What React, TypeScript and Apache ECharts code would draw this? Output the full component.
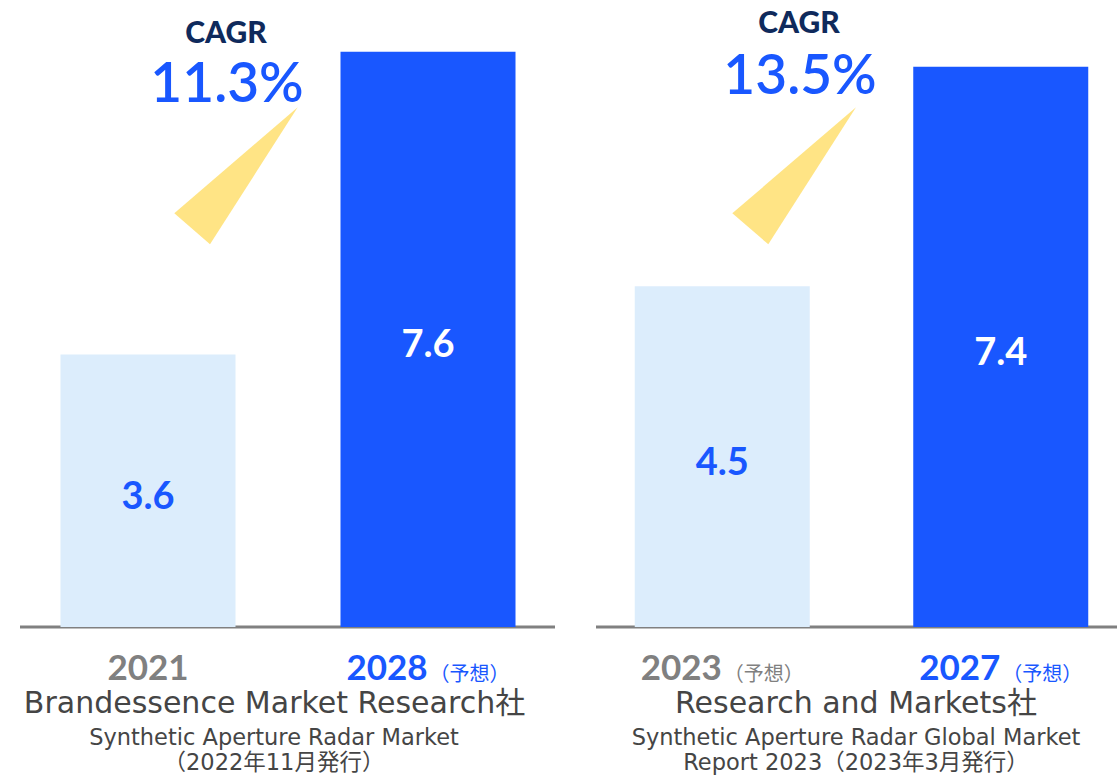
import React, { useEffect, useRef } from "react";
import * as echarts from "echarts";

const leftYears = ["2021", "2028"];
const leftSuffix = ["", "（予想）"];
const leftValues = [3.6, 7.6];
const rightYears = ["2023", "2027"];
const rightSuffix = ["（予想）", "（予想）"];
const rightValues = [4.5, 7.4];
const forecastFlags = [[false, true], [false, true]];
const cagrValues = ["11.3%", "13.5%"];
const sourceNames = ["Brandessence Market Research社", "Research and Markets社"];
const sourceTitles = [
  "Synthetic Aperture Radar Market\n（2022年11月発行）",
  "Synthetic Aperture Radar Global Market\nReport 2023（2023年3月発行）",
];

const BLUE = "#1957ff";
const LIGHT = "#dcedfc";
const GRAY = "#808080";
const NAVY = "#0f2a5c";
const YELLOW = "#ffe485";
const TXT = "#454545";
const FONT = "Lato, 'Noto Sans', 'Noto Sans CJK JP', sans-serif";
const TEXTFONT = "'DejaVu Sans', 'Noto Sans CJK JP', sans-serif";
const JPFONT = "'Noto Sans', 'Noto Sans CJK JP', sans-serif";

function barData(values: number[], flags: boolean[]) {
  return values.map((v, i) => ({
    value: v,
    itemStyle: { color: flags[i] ? BLUE : LIGHT },
    label: { color: flags[i] ? "#ffffff" : BLUE },
  }));
}

function xAxisFor(idx: number, years: string[], suffix: string[], flags: boolean[]) {
  return {
    type: "category",
    gridIndex: idx,
    data: years.map((y, i) => ({ value: y + "|" + suffix[i] + "|" + (flags[i] ? "b" : "g") })),
    axisLine: { show: false },
    axisTick: { show: false },
    axisLabel: {
      margin: 20,
      formatter: (v: string) => {
        const [y, s, c] = v.split("|");
        const yk = c === "b" ? "yb" : "yg";
        const sk = c === "b" ? "sb" : "sg";
        return s ? `{${yk}|${y}}{${sk}|${s}}` : `{${yk}|${y}}`;
      },
      rich: {
        yb: { fontSize: 35, fontWeight: "bold", color: BLUE, fontFamily: FONT, lineHeight: 36, verticalAlign: "bottom" },
        yg: { fontSize: 35, fontWeight: "bold", color: GRAY, fontFamily: FONT, lineHeight: 36, verticalAlign: "bottom" },
        sb: { fontSize: 20, color: BLUE, fontFamily: JPFONT, lineHeight: 32, verticalAlign: "bottom", padding: [0, 0, 0, 2] },
        sg: { fontSize: 20, color: GRAY, fontFamily: JPFONT, lineHeight: 32, verticalAlign: "bottom", padding: [0, 0, 0, 2] },
      },
    },
  };
}

export default function App() {
  const ref = useRef<HTMLDivElement>(null);
  useEffect(() => {
    if (!ref.current) return;
    const chart = echarts.init(ref.current, null, { renderer: "svg" });
    const barLabel = {
      show: true,
      position: "inside",
      fontSize: 38,
      fontWeight: "bold",
      fontFamily: FONT,
      offset: [0, 3],
    };
    const option: any = {
      animation: false,
      backgroundColor: "#ffffff",
      grid: [
        { left: 8, width: 560, top: 21.4, bottom: 148 },
        { left: 583, width: 557, top: 21.4, bottom: 148 },
      ],
      xAxis: [
        xAxisFor(0, leftYears, leftSuffix, forecastFlags[0]),
        xAxisFor(1, rightYears, rightSuffix, forecastFlags[1]),
      ],
      yAxis: [0, 1].map((i) => ({
        type: "value",
        gridIndex: i,
        min: 0,
        max: 8,
        show: false,
        splitLine: { show: false },
      })),
      series: [
        {
          type: "bar",
          xAxisIndex: 0,
          yAxisIndex: 0,
          barWidth: 175,
          data: barData(leftValues, forecastFlags[0]),
          label: barLabel,
        },
        {
          type: "bar",
          xAxisIndex: 1,
          yAxisIndex: 1,
          barWidth: 175,
          data: barData(rightValues, forecastFlags[1]),
          label: barLabel,
        },
      ],
      graphic: [
        { type: "line", shape: { x1: 20, y1: 627, x2: 555, y2: 627 }, style: { stroke: GRAY, lineWidth: 3 } },
        { type: "line", shape: { x1: 596, y1: 627, x2: 1117, y2: 627 }, style: { stroke: GRAY, lineWidth: 3 } },
        { type: "polygon", shape: { points: [[297.7, 107.3], [174.3, 213.3], [210, 244.3]] }, style: { fill: YELLOW } },
        { type: "polygon", shape: { points: [[856, 107.3], [732.3, 213.3], [768.3, 244.3]] }, style: { fill: YELLOW } },
        { type: "text", x: 226, y: 31, style: { text: "CAGR", fill: NAVY, font: `900 30px ${FONT}`, lineHeight: 26, textAlign: "center", textVerticalAlign: "middle" } },
        { type: "text", x: 227, y: 81, style: { text: cagrValues[0], fill: BLUE, font: `600 55px ${FONT}`, lineHeight: 46, textAlign: "center", textVerticalAlign: "middle" } },
        { type: "text", x: 799, y: 21, style: { text: "CAGR", fill: NAVY, font: `900 30px ${FONT}`, lineHeight: 26, textAlign: "center", textVerticalAlign: "middle" } },
        { type: "text", x: 800, y: 73, style: { text: cagrValues[1], fill: BLUE, font: `600 55px ${FONT}`, lineHeight: 46, textAlign: "center", textVerticalAlign: "middle" } },
        { type: "text", x: 274.5, y: 702, style: { text: sourceNames[0], fill: TXT, font: `30px ${TEXTFONT}`, textAlign: "center", textVerticalAlign: "middle" } },
        { type: "text", x: 856, y: 702, style: { text: sourceNames[1], fill: TXT, font: `30px ${TEXTFONT}`, textAlign: "center", textVerticalAlign: "middle" } },
        { type: "text", x: 274, y: 749, style: { text: sourceTitles[0], fill: TXT, font: `22.5px ${TEXTFONT}`, lineHeight: 25, textAlign: "center", textVerticalAlign: "middle" } },
        { type: "text", x: 856, y: 749, style: { text: sourceTitles[1], fill: TXT, font: `22.5px ${TEXTFONT}`, lineHeight: 25, textAlign: "center", textVerticalAlign: "middle" } },
      ],
    };
    chart.setOption(option);
    return () => chart.dispose();
  }, []);
  return (
    <div
      ref={ref}
      style={{ position: "fixed", left: 0, top: 0, width: 1145, height: 775, background: "#fff" }}
    />
  );
}
